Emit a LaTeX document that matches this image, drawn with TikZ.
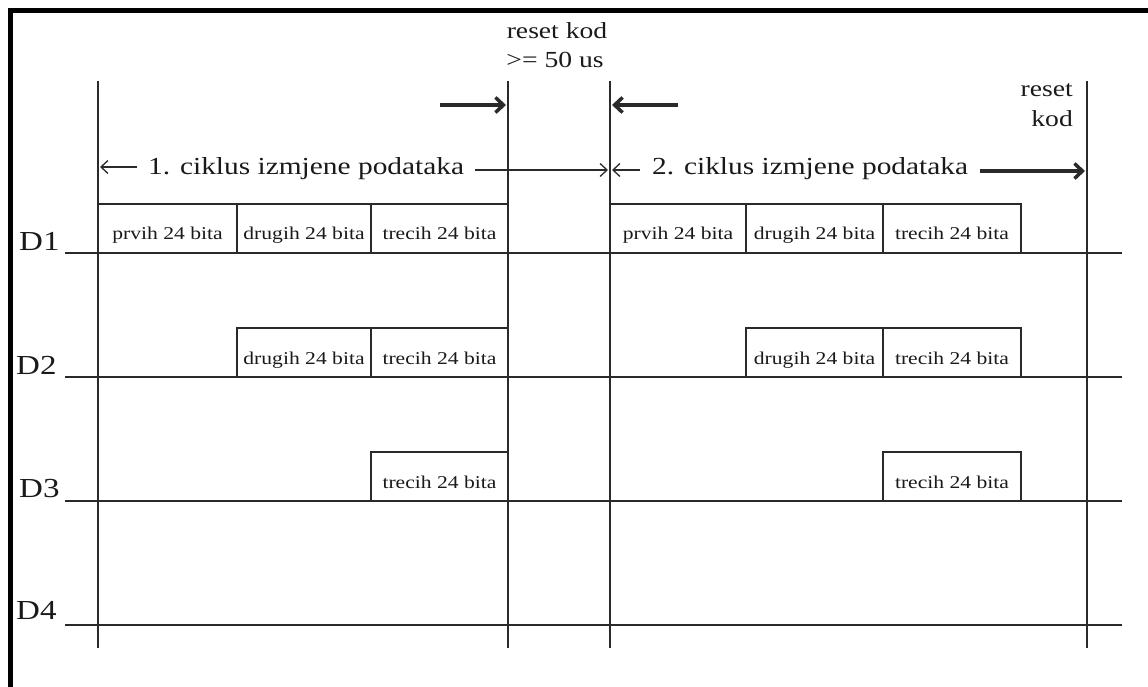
\documentclass[tikz,border=0pt]{standalone}
\usepackage{fontspec}
\setmainfont{Liberation Serif}[FakeStretch=1.2]
\usetikzlibrary{arrows.meta,calc}
\definecolor{ink}{HTML}{2A2A2A}
\definecolor{txt}{HTML}{1A1A1A}
\begin{document}
\begin{tikzpicture}[x=1pt,y=-1pt,
  line/.style={draw=ink,line width=2.3pt},
  cell/.style={draw=ink,line width=2.3pt,inner sep=0pt,minimum height=49pt,text height=36pt,text depth=13pt,font=\fontsize{18}{20}\selectfont,text=txt},
  dlabel/.style={anchor=base west,font=\fontsize{27.5}{30}\selectfont,inner sep=0pt,text=txt},
  cyc/.style={anchor=base west,font=\fontsize{24.5}{28}\selectfont,inner sep=0pt,text=txt},
  note/.style={font=\fontsize{23}{28}\selectfont,inner sep=0pt,text=txt},
  thinarr/.style={draw=ink,line width=1.3pt,-{Straight Barb[length=7pt,width=13pt,line width=1.3pt]}},
  thickarr/.style={draw=ink,line width=3.5pt,-{Straight Barb[length=8pt,width=15pt]}},
]
\useasboundingbox (0,0) rectangle (1148,687);
\fill[white] (0,0) rectangle (1148,687);
% frame (top and left only)
\draw[line width=5pt,miter limit=10] (1150,10.5) -- (10.5,10.5) -- (10.5,690);

% signal base lines
\foreach \y in {253,377,501,625} \draw[line] (65,\y) -- (1122,\y);

% vertical time markers
\coordinate (L1) at (98,81);  \coordinate (B1) at (98,648);
\coordinate (L2) at (508,81); \coordinate (B2) at (508,648);
\coordinate (L3) at (610,81); \coordinate (B3) at (610,648);
\coordinate (L4) at (1087,81); \coordinate (B4) at (1087,648);
\draw[line] (L1) -- (B1);
\draw[line] (L2) -- (B2);
\draw[line] (L3) -- (B3);
\draw[line] (L4) -- (B4);

% channel labels
\node[dlabel] (d1) at (19,251) {D1};
\node[dlabel] (d2) at (16,374) {D2};
\node[dlabel] (d3) at (19,497) {D3};
\node[dlabel] (d4) at (16,619) {D4};

% D1 cells
\node[cell,minimum width=139pt] (c11) at (167.5,228.5) {prvih 24 bita};
\node[cell,minimum width=134pt] (c12) at (304,228.5) {drugih 24 bita};
\node[cell,minimum width=137pt] (c13) at (439.5,228.5) {trecih 24 bita};
\node[cell,minimum width=136pt] (c14) at (678,228.5) {prvih 24 bita};
\node[cell,minimum width=137pt] (c15) at (814.5,228.5) {drugih 24 bita};
\node[cell,minimum width=138pt] (c16) at (952,228.5) {trecih 24 bita};
% D2 cells
\node[cell,minimum width=134pt] (c22) at (304,352.5) {drugih 24 bita};
\node[cell,minimum width=137pt] (c23) at (439.5,352.5) {trecih 24 bita};
\node[cell,minimum width=137pt] (c25) at (814.5,352.5) {drugih 24 bita};
\node[cell,minimum width=138pt] (c26) at (952,352.5) {trecih 24 bita};
% D3 cells
\node[cell,minimum width=137pt] (c33) at (439.5,476.5) {trecih 24 bita};
\node[cell,minimum width=138pt] (c36) at (952,476.5) {trecih 24 bita};

% notes
\node[note,anchor=base] (rk1) at (557,39) {reset kod};
\node[note,anchor=base] (rk2) at (555,68) {>= 50 us};
\node[note,anchor=base east] (rk3) at (1073,97) {reset};
\node[note,anchor=base east] (rk4) at (1073,127) {kod};

% cycle labels
\node[cyc] (cyc1) at (148,174.5) {1. ciklus izmjene podataka};
\node[cyc] (cyc2) at (652,174.5) {2. ciklus izmjene podataka};

% arrow end points
\coordinate (a1s) at (137,167);  \coordinate (a1e) at (100,167);
\coordinate (a2s) at (475,170);  \coordinate (a2e) at (608,170);
\coordinate (a3s) at (640,170);  \coordinate (a3e) at (612,170);
\coordinate (a4s) at (980,171);  \coordinate (a4e) at (1085,171);
\coordinate (t1s) at (440,105);  \coordinate (t1e) at (506,105);
\coordinate (t2s) at (678,105);  \coordinate (t2e) at (612,105);

\draw[thinarr] (a1s) -- (a1e);
\draw[thinarr] (a2s) -- (a2e);
\draw[thinarr] (a3s) -- (a3e);
\draw[thickarr] (a4s) -- (a4e);
\draw[thickarr] (t1s) -- (t1e);
\draw[thickarr] (t2s) -- (t2e);
\end{tikzpicture}
\end{document}
